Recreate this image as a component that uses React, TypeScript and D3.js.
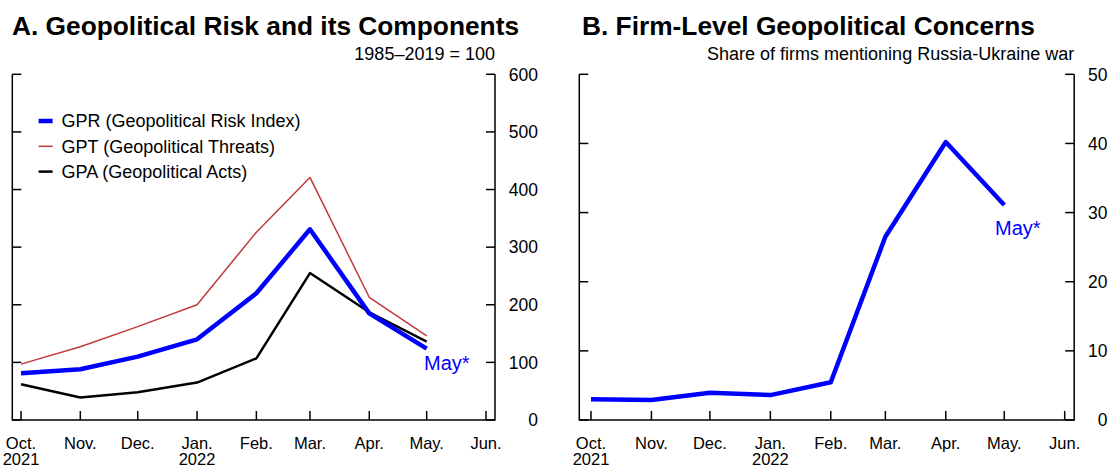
import React from "react";
import * as d3 from "d3";

// months at which ticks and data points sit
const monthDates = [
  "2021-10-01", "2021-11-01", "2021-12-01", "2022-01-01", "2022-02-01",
  "2022-03-01", "2022-04-01", "2022-05-01", "2022-06-01",
].map((s) => new Date(s + "T00:00:00Z"));
const monthLabels = ["Oct.", "Nov.", "Dec.", "Jan.", "Feb.", "Mar.", "Apr.", "May.", "Jun."];
const yearLabels = ["2021", "", "", "2022", "", "", "", "", ""];

// Panel A (Oct..May)
const gpr = [81, 88, 110, 140, 220, 331, 185, 124];
const gpt = [97, 127, 162, 200, 326, 421, 213, 146];
const gpa = [62, 39, 48, 65, 107, 255, 187, 136];
const ticksA = [0, 100, 200, 300, 400, 500, 600];

// Panel B (Oct..May)
const firmShare = [3.0, 2.9, 3.95, 3.6, 5.45, 26.5, 40.2, 31.1];
const ticksB = [0, 10, 20, 30, 40, 50];

const legendItems = [
  { label: "GPR (Geopolitical Risk Index)", color: "#0000ff", width: 4.5 },
  { label: "GPT (Geopolitical Threats)", color: "#c0393b", width: 1.5 },
  { label: "GPA (Geopolitical Acts)", color: "#000000", width: 2.5 },
];

const FONT = "'Liberation Sans', Arial, Helvetica, sans-serif";
const TOP = 74.3;
const BOTTOM = 420;

type Series = { values: number[]; color: string; width: number };

function Panel(props: {
  frame: [number, number];
  xr: [number, number];
  ymax: number;
  ticks: number[];
  labelRight: number;
  series: Series[];
  title: string;
  titleX: number;
  subtitle: string;
  mayLabel: [number, number];
}) {
  const { frame, xr, ymax, ticks, labelRight, series, title, titleX, subtitle, mayLabel } = props;
  const x = d3.scaleUtc().domain([monthDates[0], monthDates[8]]).range(xr);
  const y = d3.scaleLinear().domain([0, ymax]).range([BOTTOM, TOP]);
  const line = d3
    .line<number>()
    .x((_, i) => x(monthDates[i]))
    .y((d) => y(d));
  const tickLen = 9;

  return (
    <g>
      <text x={titleX} y={35} fontSize={26.3} fontWeight="bold" fontFamily={FONT}>
        {title}
      </text>
      <text x={frame[1]} y={60} fontSize={18} textAnchor="end" fontFamily={FONT}>
        {subtitle}
      </text>

      {series.map((s, i) => (
        <path
          key={i}
          d={line(s.values) ?? ""}
          fill="none"
          stroke={s.color}
          strokeWidth={s.width}
          strokeLinejoin="round"
        />
      ))}

      {/* frame: left, bottom, right */}
      <path
        d={`M${frame[0]},${TOP}V${BOTTOM}H${frame[1]}V${TOP}`}
        fill="none"
        stroke="#000"
        strokeWidth={1.5}
      />
      {ticks.map((t) => (
        <g key={t}>
          <line x1={frame[0]} x2={frame[0] + tickLen} y1={y(t)} y2={y(t)} stroke="#000" strokeWidth={1.5} />
          <line x1={frame[1] - tickLen} x2={frame[1]} y1={y(t)} y2={y(t)} stroke="#000" strokeWidth={1.5} />
          <text
            x={labelRight}
            y={y(t)}
            dy="0.36em"
            textAnchor="end"
            fontSize={17.5}
            fontFamily={FONT}
          >
            {t}
          </text>
        </g>
      ))}
      {monthDates.map((d, i) => (
        <g key={i}>
          <line x1={x(d)} x2={x(d)} y1={BOTTOM} y2={BOTTOM - tickLen} stroke="#000" strokeWidth={1.5} />
          <text x={x(d)} y={448.5} textAnchor="middle" fontSize={16.5} fontFamily={FONT}>
            {monthLabels[i]}
          </text>
          {yearLabels[i] && (
            <text x={x(d)} y={464.5} textAnchor="middle" fontSize={16.5} fontFamily={FONT}>
              {yearLabels[i]}
            </text>
          )}
        </g>
      ))}
      <text
        x={mayLabel[0]}
        y={mayLabel[1]}
        dy="0.36em"
        fontSize={20}
        fill="#0000ff"
        fontFamily={FONT}
      >
        May*
      </text>
    </g>
  );
}

export default function App() {
  return (
    <svg
      width={1109}
      height={468}
      style={{ position: "absolute", left: 0, top: 0, background: "#fff" }}
    >
      <rect width={1109} height={468} fill="#fff" />
      <Panel
        frame={[12.3, 495]}
        xr={[21, 486]}
        ymax={600}
        ticks={ticksA}
        labelRight={538}
        series={[
          { values: gpt, color: legendItems[1].color, width: legendItems[1].width },
          { values: gpa, color: legendItems[2].color, width: legendItems[2].width },
          { values: gpr, color: legendItems[0].color, width: legendItems[0].width },
        ]}
        title="A. Geopolitical Risk and its Components"
        titleX={12}
        subtitle="1985–2019 = 100"
        mayLabel={[424, 363]}
      />
      <Panel
        frame={[579.3, 1074.2]}
        xr={[591, 1064.7]}
        ymax={50}
        ticks={ticksB}
        labelRight={1107.5}
        series={[{ values: firmShare, color: "#0000ff", width: 4.5 }]}
        title="B. Firm-Level Geopolitical Concerns"
        titleX={582}
        subtitle="Share of firms mentioning Russia-Ukraine war"
        mayLabel={[995, 228]}
      />
      {legendItems.map((item, i) => (
        <g key={item.label} transform={`translate(0,${121 + i * 25.3})`}>
          <line x1={38.6} x2={52.6} y1={0} y2={0} stroke={item.color} strokeWidth={item.width} />
          <text x={61.5} y={0} dy="0.36em" fontSize={18} fontFamily={FONT}>
            {item.label}
          </text>
        </g>
      ))}
    </svg>
  );
}
